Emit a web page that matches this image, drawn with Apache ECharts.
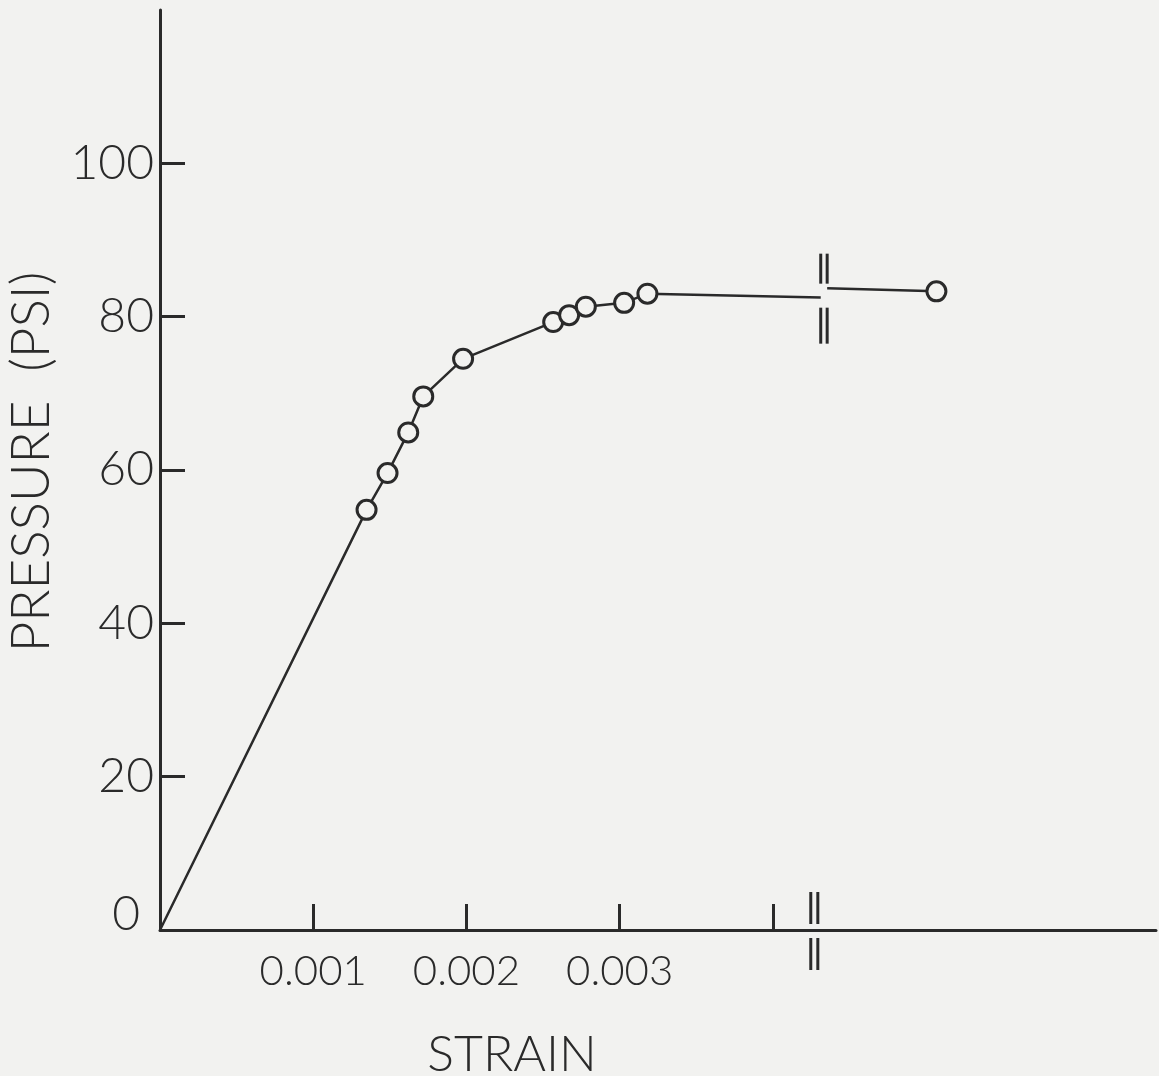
<!DOCTYPE html>
<html>
<head>
<meta charset="utf-8">
<script src="https://cdn.jsdelivr.net/npm/echarts@6/dist/echarts.min.js"></script>
<style>
  html, body { margin: 0; padding: 0; background: #f2f2f0; }
  #chart { width: 1159px; height: 1076px; }
</style>
</head>
<body>
<div id="chart"></div>
<script>
// strain vs pressure
const strain   = [0, 0.001348, 0.001485, 0.001620, 0.001718, 0.001978, 0.002566, 0.002670, 0.002779, 0.003029, 0.003181, 0.004312];
const pressure = [0, 54.8, 59.6, 64.9, 69.6, 74.5, 79.3, 80.2, 81.3, 81.8, 83.0, 82.5];
const shown    = [false, true, true, true, true, true, true, true, true, true, true, false];

// part past the axis break
const strainAfter   = [0.004354, 0.005067];
const pressureAfter = [83.7, 83.3];
const shownAfter    = [false, true];

const xTicks  = [0.001, 0.002, 0.003, 0.004];
const xLabels = [0.001, 0.002, 0.003];
const yTicks  = [0, 20, 40, 60, 80, 100];

const axisBreak  = [0.004247, 0.004293];
const curveBreak = [0.004312, 0.004354];

const ink = '#2a2a2a';
const bg = '#f2f2f0';
const font = 'Lato';

function pts(xs, ys, vis) {
  return xs.map((x, i) => ({
    value: [x, ys[i]],
    symbol: vis[i] ? 'circle' : 'none'
  }));
}

const chart = echarts.init(document.getElementById('chart'), null, { renderer: 'canvas' });

const option = {
  backgroundColor: bg,
  animation: false,
  grid: { left: 160, right: 3, top: 10, bottom: 146, containLabel: false, outerBoundsMode: 'none' },
  xAxis: {
    type: 'value',
    min: 0,
    max: 0.0065,
    splitLine: { show: false },
    axisLine: { lineStyle: { color: ink, width: 3 } },
    axisTick: {
      inside: true, length: 26, customValues: xTicks,
      lineStyle: { color: ink, width: 3 }
    },
    axisLabel: {
      customValues: xLabels,
      formatter: v => v.toFixed(3),
      margin: 20,
      color: ink,
      fontFamily: font,
      fontWeight: 300,
      fontSize: 42
    },
    name: 'STRAIN',
    nameLocation: 'start',
    nameGap: -352,
    nameTextStyle: {
      color: ink, fontFamily: font, fontWeight: 300, fontSize: 50,
      align: 'center', verticalAlign: 'top', padding: [100, 0, 0, 0]
    }
  },
  yAxis: {
    type: 'value',
    min: 0,
    max: 120,
    splitLine: { show: false },
    axisLine: { lineStyle: { color: ink, width: 3 } },
    axisTick: {
      inside: true, length: 25, customValues: yTicks,
      lineStyle: { color: ink, width: 3 }
    },
    axisLabel: {
      customValues: yTicks,
      margin: 6,
      color: ink,
      fontFamily: font,
      fontWeight: 300,
      fontSize: 48,
      // the zero sits a little up and left of the corner
      formatter: v => v === 0 ? '{z|0}' : String(v),
      rich: {
        z: { fontFamily: font, fontWeight: 300, fontSize: 48, color: ink, padding: [0, 14, 30, 0] }
      }
    },
    name: 'PRESSURE  (PSI)',
    nameLocation: 'middle',
    nameRotate: 90,
    nameGap: 102,
    nameTextStyle: { color: ink, fontFamily: font, fontWeight: 300, fontSize: 53, padding: [0, 0, 0, 16] }
  },
  series: [
    {
      type: 'line',
      data: pts(strain, pressure, shown),
      symbolSize: 19,
      showAllSymbol: true,
      lineStyle: { color: ink, width: 2.5 },
      itemStyle: { color: bg, borderColor: ink, borderWidth: 3 }
    },
    {
      type: 'line',
      data: pts(strainAfter, pressureAfter, shownAfter),
      symbolSize: 19,
      showAllSymbol: true,
      lineStyle: { color: ink, width: 2.5 },
      itemStyle: { color: bg, borderColor: ink, borderWidth: 3 }
    }
  ]
};

chart.setOption(option);

// break marks on the axis and on the curve
function breakLines() {
  const els = [];
  const seg = (x, y1, y2) => ({
    type: 'line',
    shape: { x1: x, y1: y1, x2: x, y2: y2 },
    style: { stroke: ink, lineWidth: 3 }
  });
  axisBreak.forEach(s => {
    const p = chart.convertToPixel({ gridIndex: 0 }, [s, 0]);
    els.push(seg(p[0], p[1] - 38, p[1] - 6));
    els.push(seg(p[0], p[1] + 8, p[1] + 40));
  });
  curveBreak.forEach(s => {
    const p = chart.convertToPixel({ gridIndex: 0 }, [s, 83]);
    els.push(seg(p[0], p[1] - 40, p[1] - 10));
    els.push(seg(p[0], p[1] + 14, p[1] + 50));
  });
  chart.setOption({ graphic: { elements: els } });
}
breakLines();
</script>
</body>
</html>
